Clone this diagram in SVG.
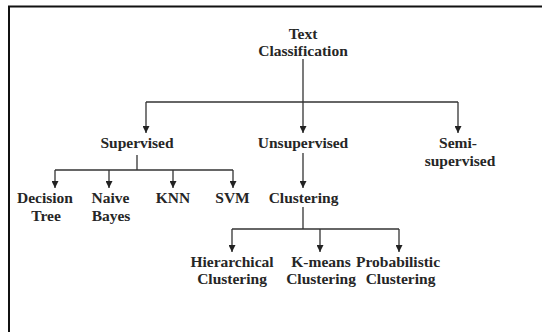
<svg xmlns="http://www.w3.org/2000/svg" width="542" height="332" viewBox="0 0 542 332">
  <style>
    .lbl { font-family: "Liberation Serif", "Times New Roman", serif; font-weight: bold; font-size: 15.5px; fill: #262626; text-anchor: middle; }
    .ln { stroke: #333333; stroke-width: 1.3; fill: none; }
    .frame { stroke: #111111; stroke-width: 2; fill: none; }
  </style>
  <defs>
    <marker id="arr" viewBox="0 0 8 8" refX="8" refY="4" markerWidth="7" markerHeight="7" markerUnits="userSpaceOnUse" orient="auto">
      <path d="M0,0 L8,4 L0,8 z" fill="#222222"/>
    </marker>
  </defs>
  <rect width="542" height="332" fill="#ffffff"/>
  <path class="frame" d="M9,332 L9,6.5 L542,6.5"/>

  <g id="connectors">
    <path class="ln" d="M303,59 L303,102"/>
    <path class="ln" d="M146,102 L458,102"/>
    <path class="ln" d="M146,102 L146,133" marker-end="url(#arr)"/>
    <path class="ln" d="M303,102 L303,133" marker-end="url(#arr)"/>
    <path class="ln" d="M458,102 L458,133" marker-end="url(#arr)"/>

    <path class="ln" d="M137,155 L137,170"/>
    <path class="ln" d="M55,170 L233,170"/>
    <path class="ln" d="M55,170 L55,188" marker-end="url(#arr)"/>
    <path class="ln" d="M109,170 L109,188" marker-end="url(#arr)"/>
    <path class="ln" d="M173,170 L173,188" marker-end="url(#arr)"/>
    <path class="ln" d="M233,170 L233,188" marker-end="url(#arr)"/>

    <path class="ln" d="M303,153 L303,188" marker-end="url(#arr)"/>

    <path class="ln" d="M303,207 L303,229"/>
    <path class="ln" d="M232,229 L399,229"/>
    <path class="ln" d="M232,229 L232,252" marker-end="url(#arr)"/>
    <path class="ln" d="M320,229 L320,252" marker-end="url(#arr)"/>
    <path class="ln" d="M399,229 L399,252" marker-end="url(#arr)"/>
  </g>

  <g id="text-classification">
    <text class="lbl" x="303" y="38.5">Text</text>
    <text class="lbl" x="303" y="56">Classification</text>
  </g>
  <g id="supervised"><text class="lbl" x="137" y="148">Supervised</text></g>
  <g id="unsupervised"><text class="lbl" x="303" y="148">Unsupervised</text></g>
  <g id="semi-supervised">
    <text class="lbl" x="458" y="148">Semi-</text>
    <text class="lbl" x="460" y="166">supervised</text>
  </g>
  <g id="decision-tree">
    <text class="lbl" x="45" y="203">Decision</text>
    <text class="lbl" x="46" y="221">Tree</text>
  </g>
  <g id="naive-bayes">
    <text class="lbl" x="110.5" y="203">Naive</text>
    <text class="lbl" x="111" y="221">Bayes</text>
  </g>
  <g id="knn"><text class="lbl" x="173" y="203">KNN</text></g>
  <g id="svm"><text class="lbl" x="232.5" y="203">SVM</text></g>
  <g id="clustering"><text class="lbl" x="303.5" y="203">Clustering</text></g>
  <g id="hierarchical">
    <text class="lbl" x="232" y="266.5">Hierarchical</text>
    <text class="lbl" x="232" y="284">Clustering</text>
  </g>
  <g id="kmeans">
    <text class="lbl" x="321" y="266.5">K-means</text>
    <text class="lbl" x="321" y="284">Clustering</text>
  </g>
  <g id="probabilistic">
    <text class="lbl" x="398" y="266.5">Probabilistic</text>
    <text class="lbl" x="400.5" y="284">Clustering</text>
  </g>
</svg>
